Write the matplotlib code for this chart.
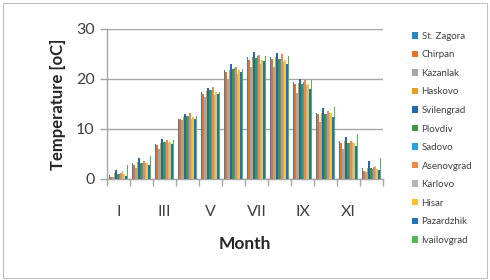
import matplotlib
matplotlib.use("Agg")
import matplotlib.pyplot as plt
import numpy as np
from matplotlib.patches import Rectangle

plt.rcParams['font.family'] = ['Lato', 'DejaVu Sans']

months = ["I", "II", "III", "IV", "V", "VI", "VII", "VIII", "IX", "X", "XI", "XII"]
stations = ["St. Zagora", "Chirpan", "Kazanlak", "Haskovo", "Svilengrad", "Plovdiv",
            "Sadovo", "Asenovgrad", "Karlovo", "Hisar", "Pazardzhik", "Ivailovgrad"]

st_zagora   = [0.8, 3.2, 7.1, 12.1, 17.4, 21.8, 24.5, 24.5, 19.5, 13.3, 7.6, 2.3]
chirpan     = [0.5, 2.8, 6.9, 12.0, 17.0, 21.5, 23.9, 24.0, 19.1, 13.0, 7.3, 1.6]
kazanlak    = [0.4, 2.2, 6.0, 11.8, 16.4, 20.1, 22.5, 22.5, 17.3, 11.5, 6.1, 1.5]
haskovo     = [1.3, 3.4, 7.3, 12.4, 17.6, 21.9, 24.5, 24.5, 19.3, 13.3, 7.6, 2.3]
svilengrad  = [1.9, 4.2, 8.1, 13.1, 18.3, 23.0, 25.4, 25.3, 20.1, 14.3, 8.5, 3.6]
plovdiv     = [1.1, 3.2, 7.5, 12.6, 17.8, 22.1, 24.3, 24.0, 19.1, 13.1, 7.3, 2.3]
sadovo      = [1.0, 3.2, 7.4, 12.6, 17.8, 22.2, 24.6, 24.1, 19.5, 13.1, 7.3, 2.1]
asenovgrad  = [1.2, 3.6, 7.8, 13.2, 18.4, 22.5, 24.9, 25.0, 19.8, 13.7, 7.6, 2.5]
karlovo     = [1.6, 3.3, 7.2, 12.1, 16.9, 21.1, 23.1, 23.5, 18.8, 13.2, 7.5, 2.6]
hisar       = [1.0, 3.2, 7.4, 12.5, 17.5, 21.9, 23.8, 23.9, 19.1, 13.2, 7.3, 2.1]
pazardzhik  = [0.7, 2.8, 7.0, 12.0, 17.1, 21.5, 23.7, 23.1, 18.1, 12.5, 6.7, 1.9]
ivailovgrad = [2.8, 4.6, 7.8, 12.6, 17.5, 22.1, 24.6, 24.6, 19.8, 14.5, 9.0, 4.2]

series = [st_zagora, chirpan, kazanlak, haskovo, svilengrad, plovdiv,
          sadovo, asenovgrad, karlovo, hisar, pazardzhik, ivailovgrad]
colors = ["#2E86C1", "#E8702A", "#A5A5A5", "#E8A020", "#2466B0", "#3A9A45",
          "#2AA0DC", "#F08848", "#B4B4B4", "#FFC02A", "#1E72C0", "#4CBB50"]

fig = plt.figure(figsize=(4.9, 2.8), dpi=100)
fig.patches.append(Rectangle((0.006, 0.008), 0.988, 0.982, transform=fig.transFigure,
                             fill=False, edgecolor="#BFBFBF", linewidth=0.8))
ax = fig.add_axes([107/490, 1-179/280, (383-107)/490, 150/280])

n = len(series)
x = np.arange(len(months))
bw = 0.07
for i, (vals, c) in enumerate(zip(series, colors)):
    ax.bar(x + (i - (n-1)/2) * bw, vals, width=bw, color=c, label=stations[i],
           linewidth=0, zorder=3)

ax.set_xlim(-0.5, 11.5)
ax.set_ylim(0, 30)
ax.set_yticks([0, 10, 20, 30])
ax.yaxis.grid(True, color="#A6A6A6", linewidth=1.0, zorder=0)
ax.set_axisbelow(True)

for s in ["top", "right"]:
    ax.spines[s].set_visible(False)
ax.spines["left"].set_color("#A6A6A6")
ax.spines["bottom"].set_color("#A6A6A6")
ax.spines["left"].set_linewidth(1.0)
ax.spines["bottom"].set_linewidth(1.0)

ax.set_xticks(np.arange(-0.5, 12, 1), minor=False)
ax.set_xticklabels([])
ax.set_xticks(x[::2], minor=True)
ax.set_xticklabels(months[::2], minor=True)
ax.tick_params(axis="x", which="major", length=5, color="#A6A6A6", width=1.0)
ax.tick_params(axis="x", which="minor", length=0, pad=19, labelsize=11.5, labelcolor="#404040")
ax.tick_params(axis="y", length=5, color="#A6A6A6", width=1.0, labelsize=11.5,
               labelcolor="#404040", pad=4)

ax.set_ylabel("Temperature [oC]", fontsize=12, fontweight="bold", color="#262626", labelpad=7)
ax.set_xlabel("Month", fontsize=12.5, fontweight="bold", color="#262626", labelpad=12)

leg = fig.legend(loc="upper left", bbox_to_anchor=(408/490, 1-28/280), frameon=False,
                 fontsize=7, handlelength=0.65, handleheight=0.65, handletextpad=0.35,
                 labelspacing=0.98, borderaxespad=0)
for t in leg.get_texts():
    t.set_color("#404040")

fig.savefig("out.png", dpi=100)
